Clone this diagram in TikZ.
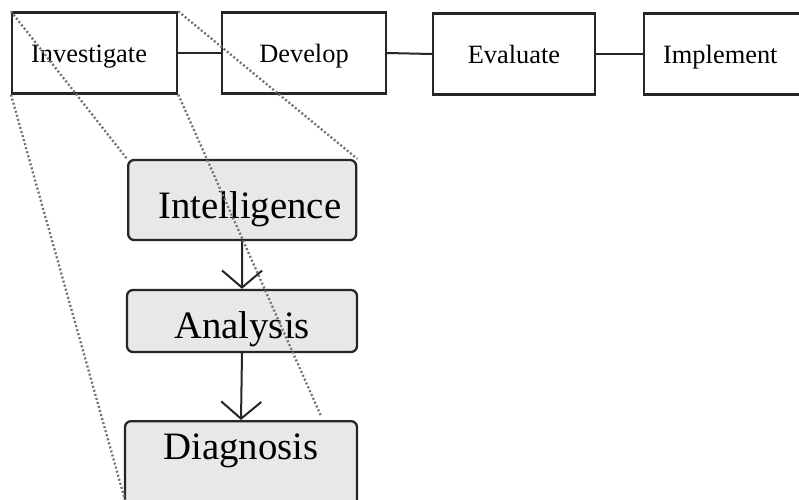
\documentclass[tikz,border=0pt]{standalone}
\usepackage{fontspec}
\setmainfont{Liberation Serif}
\usetikzlibrary{arrows.meta}
\tikzset{
  topbox/.style={draw=black!85, line width=2.3pt, rectangle, inner sep=0pt,
    minimum height=81pt, text height=24pt, text depth=6pt,
    font=\fontsize{26.4}{30}\selectfont},
  stagebox/.style={draw=black!85, line width=2.3pt, rectangle, rounded corners=6pt,
    fill=black!9, inner sep=0pt, font=\fontsize{38.8}{44}\selectfont},
  link/.style={line width=2pt, draw=black!85},
  flow/.style={line width=2pt, draw=black!85,
    -{Straight Barb[length=17pt,width=40pt,line width=2pt]}},
  zoomline/.style={draw=black!55, line width=2.3pt, dash pattern=on 2pt off 2.2pt}
}
\begin{document}
\begin{tikzpicture}[x=1pt,y=-1pt]
  \clip (0,0) rectangle (799,499);
  \fill[white] (0,0) rectangle (799,499);

  % top-level process
  \node[topbox, anchor=west, text width=127pt, inner xsep=19pt, align=left] (inv) at (11,53) {Investigate};
  \node[topbox, minimum width=164pt] (dev) at (304,53) {Develop};
  \node[topbox, minimum width=162pt] (eva) at (514,54) {Evaluate};
  \node[topbox, anchor=west, text width=150pt, inner xsep=19pt, align=left] (imp) at (643,54) {Implement};

  \draw[link] (inv.east) -- (dev.west);
  \draw[link] (dev.east) -- (eva.west);
  \draw[link] (eva.east) -- (imp.west);

  % expanded stages
  \node[stagebox, anchor=west, text width=228pt, align=left, minimum height=80pt,
        text height=40pt, text depth=4pt] (int) at (127,200) {\hspace*{30pt}Intelligence};
  \node[stagebox, minimum width=230pt, minimum height=62pt,
        text height=40pt, text depth=6pt] (ana) at (242,321) {Analysis};
  \node[stagebox, anchor=north, minimum width=232pt, text height=27pt, text depth=60pt,
        inner ysep=11pt] (dia) at (241,420) {Diagnosis};

  \draw[flow] (int.south) -- (ana.north);
  \draw[flow] (ana.south) -- (dia.north);

  % zoom-out guide lines
  \coordinate (diaLow) at (125,500);
  \coordinate (diaTop) at (321,416);
  \draw[zoomline] (inv.north west) -- (int.north west);
  \draw[zoomline] (inv.south west) -- (diaLow);
  \draw[zoomline] (inv.north east) -- (int.north east);
  \draw[zoomline] (inv.south east) -- (diaTop);
\end{tikzpicture}
\end{document}
